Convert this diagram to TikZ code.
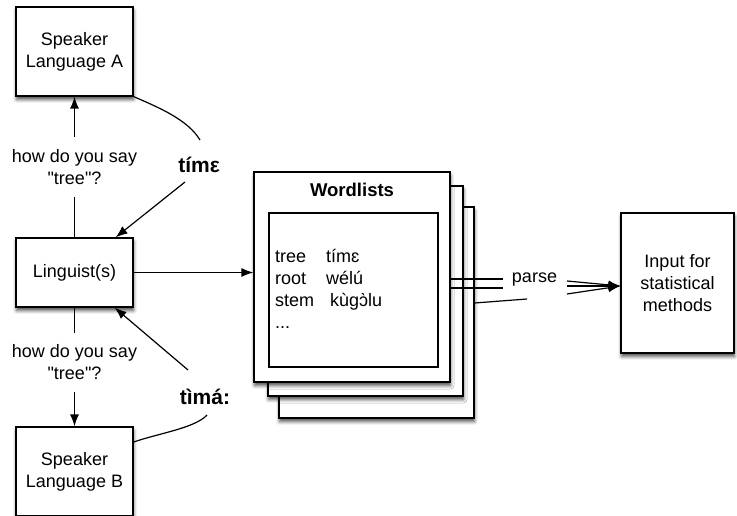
\documentclass[tikz,border=0pt]{standalone}
\usepackage{fontspec}
\setmainfont{Liberation Sans}[Ligatures=TeXOff]
\usetikzlibrary{arrows.meta,shadows.blur}
\newcommand\bodysz{\fontsize{18}{22}\selectfont}
\newcommand\labsz{\fontsize{21}{25}\selectfont}
\newcommand\titlesz{\fontsize{18.5}{22}\selectfont}

\begin{document}
\begin{tikzpicture}[x=1pt,y=-1pt,
  box/.style={draw, line width=1.2pt, fill=white, inner sep=0pt, align=center, font=\bodysz,
    blur shadow={shadow xshift=0.5pt, shadow yshift=-3.5pt, shadow blur radius=3.5pt, shadow opacity=70}},
  conn/.style={line width=1.2pt},
  arr/.style={-{Latex[length=12pt,width=9pt]}},
  qlabel/.style={fill=white, align=center, font=\bodysz, inner sep=0pt},
  answer/.style={font=\bfseries\labsz, inner sep=0pt}]
\useasboundingbox (0,0) rectangle (737,516);

% speakers and linguist
\node[box, minimum width=117pt, minimum height=89pt] (spA) at (74.5,51.5) {Speaker\\Language A};
\node[box, minimum width=117pt, minimum height=69pt] (ling) at (74.5,272.5) {Linguist(s)};
\node[box, minimum width=117pt, minimum height=89pt] (spB) at (74.5,471.5) {Speaker\\Language B};

% stacked wordlist sheets
\node[box, minimum width=195pt, minimum height=211pt] (word3) at (376.5,312.5) {};
\node[box, minimum width=195pt, minimum height=210pt] (word2) at (365.5,291) {};
\node[box, minimum width=196pt, minimum height=210pt] (word1) at (352,277) {};
\node[draw, line width=1.2pt, minimum width=169pt, minimum height=154pt, inner sep=0pt] (inner) at (353.5,290) {};
\node[font=\bfseries\titlesz, inner sep=0pt] (title) at (352,190) {Wordlists};
\node[anchor=north west, inner sep=0pt, font=\bodysz] (list) at (275,247)
  {\begin{tabular}{@{}l@{\hspace{12pt}}l@{}}
   tree & tímɛ\\
   root & wélú\\
   stem & \hspace{4pt}kùgɔ̀lu\\
   ... & \\
   \end{tabular}};

% result
\node[box, minimum width=113pt, minimum height=140pt] (input) at (677.5,283) {Input for\\statistical\\methods};

% questions
\draw[conn, arr] (ling.north) -- node[qlabel, pos=0.5, minimum height=60pt] {how do you say\\"tree"?} (spA.south);
\draw[conn, arr] (ling.south) -- node[qlabel, pos=0.46, minimum height=59pt] {how do you say\\"tree"?} (spB.north);

% answers
\node[answer] (ansA) at (199,165) {tímε};
\draw[conn] (spA.south east) .. controls (160,108) and (188,120) .. ([xshift=1pt,yshift=25pt]ansA.center);
\draw[conn, arr] ([xshift=-14pt,yshift=-17pt]ansA.center) -- ([xshift=-18pt]ling.north east);

\node[answer] (ansB) at (205,397) {tìmá:};
\draw[conn, arr] ([xshift=-17pt,yshift=27pt]ansB.center) -- ([xshift=-19pt]ling.south east);
\draw[conn] ([xshift=2pt,yshift=-18pt]ansB.center) .. controls (195,428) and (160,433) .. ([yshift=29.5pt]spB.east);

% linguist to wordlists
\draw[conn, arr] (ling.east) -- (ling.east -| word1.west);

% parsing
\node[font=\bodysz, inner sep=0pt] (parse) at (534.5,280) {parse};
\coordinate (tipin) at ([yshift=-3pt]input.west);
\coordinate (p1a) at (503,279);
\coordinate (p1b) at (567,281);
\coordinate (p2a) at (503,288);
\coordinate (p2b) at (567,286);
\coordinate (p3a) at (527,299);
\coordinate (p3b) at (567,294);
\draw[conn] (word1.east |- 0,279) -- (p1a);
\draw[conn] (word1.east |- 0,288) -- (p2a);
\draw[conn] (word3.east |- 0,303) -- (p3a);
\draw[conn, arr] (p1b) -- (tipin);
\draw[conn, arr] (p2b) -- (tipin);
\draw[conn, arr] (p3b) -- (tipin);
\end{tikzpicture}
\end{document}
